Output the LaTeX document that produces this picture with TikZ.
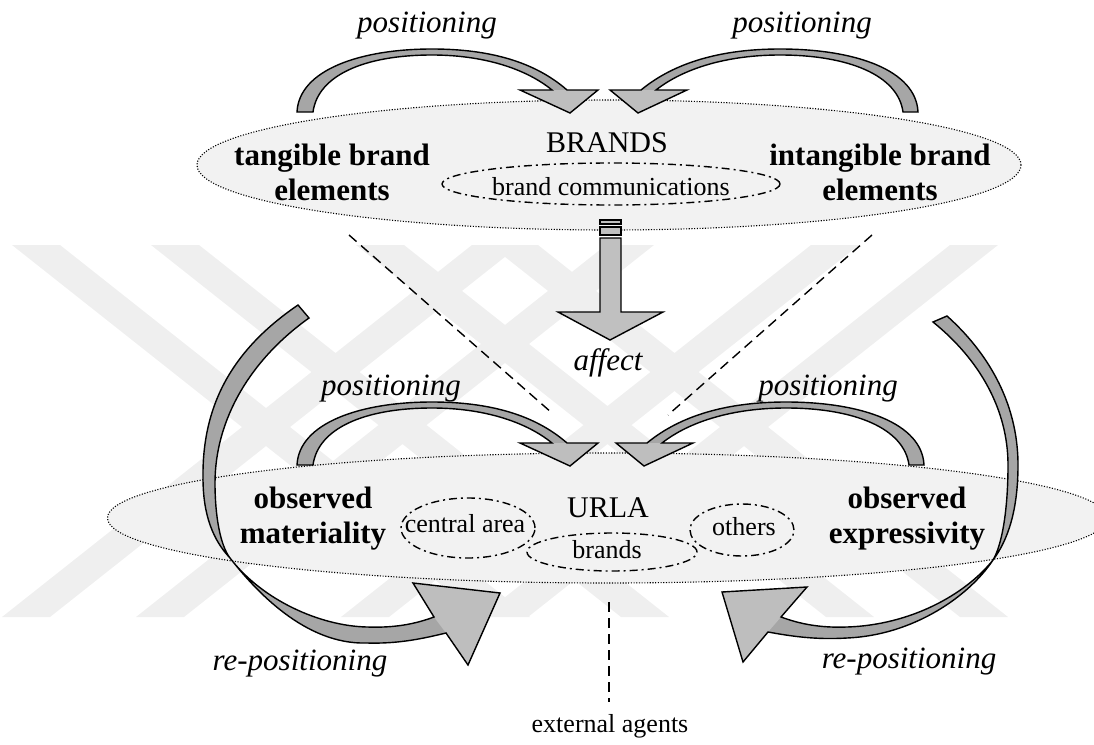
\documentclass[tikz,border=0pt]{standalone}
\usepackage{fontspec}
\setmainfont{Liberation Serif}
\usetikzlibrary{shapes.geometric}
\definecolor{ellfill}{HTML}{F2F2F2}
\definecolor{bandgray}{HTML}{A6A6A6}
\definecolor{headgray}{HTML}{BEBEBE}
\definecolor{affgray}{HTML}{C0C0C0}
\definecolor{wmgray}{HTML}{EFEFEF}
\begin{document}
\begin{tikzpicture}[x=1pt,y=-1pt,
  bigell/.style={ellipse, draw, fill=ellfill, line width=1.1pt,
    dash pattern=on 1.1pt off 1.6pt, inner sep=0pt},
  smallell/.style={ellipse, draw, line width=1.4pt,
    dash pattern=on 8pt off 4pt on 2pt off 4pt, inner sep=0pt},
  guide/.style={line width=1.4pt, dash pattern=on 10pt off 6pt},
  outline/.style={draw=black, line width=1.4pt, line join=miter},
  rm/.style={font=\fontsize{30}{34}\selectfont, inner sep=0pt},
  sm/.style={font=\fontsize{26}{30}\selectfont, inner sep=0pt},
  itl/.style={font=\fontsize{31}{34}\selectfont\itshape, inner sep=0pt},
  bf/.style={font=\fontsize{31}{34.5}\selectfont\bfseries, align=center, inner sep=0pt},
  % curved "positioning" arrow bending to the right
  posright/.pic={
    \path[save path=\pa] (297,112) .. controls (299,70) and (360,49) .. (432,49)
      .. controls (490,49) and (535,62) .. (567,90) -- (598,90) -- (570,113) -- (520,90)
      -- (552,90) .. controls (525,68) and (482,55) .. (432,55)
      .. controls (365,55) and (318,75) .. (313,112) -- cycle;
    \fill[bandgray, use path=\pa];
    \fill[headgray] (567,90) -- (598,90) -- (570,113) -- (520,90) -- (552,90) -- cycle;
    \path[outline, use path=\pa];
  },
  % curved "positioning" arrow bending to the left
  posleft/.pic={
    \path[save path=\pb] (918,112) .. controls (916,70) and (855,49) .. (780,49)
      .. controls (722,49) and (675,62) .. (641,90) -- (610,90) -- (638,113) -- (687,90)
      -- (656,90) .. controls (684,68) and (728,55) .. (780,55)
      .. controls (848,55) and (898,75) .. (903,112) -- cycle;
    \fill[bandgray, use path=\pb];
    \fill[headgray] (641,90) -- (610,90) -- (638,113) -- (687,90) -- (656,90) -- cycle;
    \path[outline, use path=\pb];
  }
]
\useasboundingbox (0,0) rectangle (1094,744);

% ---- faint background emblem: crossing diagonal strips ----
\fill[wmgray]
  \foreach \c in {36,175,380,514} {
    (\c-24,245) -- (\c+24,245) -- (\c+494,617) -- (\c+446,617) -- cycle }
  \foreach \c in {496,630,835,974} {
    (\c-24,245) -- (\c+24,245) -- (\c-446,617) -- (\c-494,617) -- cycle };

% ---- the two fields ----
\node[bigell, minimum width=1000pt, minimum height=130pt] (urlafield) at (607.5,518) {};
\node[bigell, minimum width=824pt, minimum height=130pt] (brandfield) at (609,165) {};

% ---- inner areas ----
\node[smallell, minimum width=338pt, minimum height=42pt] (commell) at (611,184) {};
\node[smallell, minimum width=134pt, minimum height=60pt] (centralell) at (468,528) {};
\node[smallell, minimum width=170pt, minimum height=38pt] (brandsell) at (612,552) {};
\node[smallell, minimum width=104pt, minimum height=52pt] (othersell) at (742,530) {};

% ---- dashed guide lines ----
\coordinate (gl1) at (349,235);
\coordinate (gl2) at (552,413);
\coordinate (gr1) at (872,235);
\coordinate (gr2) at (668,415);
\coordinate (gv1) at (609,602);
\coordinate (gv2) at (609,702);
\draw[guide] (gl1) -- (gl2);
\draw[guide] (gr1) -- (gr2);
\draw[guide] (gv1) -- (gv2);

% ---- affect arrow ----
\draw[outline, fill=affgray] (600,220) rectangle (621,224);
\draw[outline, fill=affgray] (600,227) rectangle (621,235);
\draw[outline, fill=affgray] (600,238) -- (600,312) -- (558,312) -- (610,340)
  -- (663,312) -- (621,312) -- (621,238) -- cycle;

% ---- positioning arrows ----
\pic at (0,0) {posright};
\pic at (0,0) {posleft};
\pic at (0,353) {posright};
\pic at (6,353) {posleft};

% ---- re-positioning arrows ----
\path[save path=\pBL] (298,305) .. controls (235,348) and (202,402) .. (203,478)
  .. controls (203,515) and (213,540) .. (230,558)
  .. controls (255,590) and (305,645) .. (367,643)
  .. controls (400,644) and (425,638) .. (446,633)
  -- (468,665) -- (500,593) -- (413,583) -- (434,617)
  .. controls (415,624) and (395,628) .. (367,627)
  .. controls (320,626) and (262,600) .. (230,558)
  .. controls (220,545) and (215,515) .. (215,483)
  .. controls (215,420) and (250,360) .. (309,318) -- cycle;
\fill[bandgray, use path=\pBL];
\fill[headgray] (446,633) -- (468,665) -- (500,593) -- (413,583) -- (434,617) -- cycle;
\path[outline, use path=\pBL];

\path[save path=\pBR] (947,316) .. controls (985,350) and (1018,400) .. (1018,465)
  .. controls (1018,510) and (1008,540) .. (993,560)
  .. controls (970,595) and (915,635) .. (847,638)
  .. controls (815,640) and (790,636) .. (768,632)
  -- (743,662) -- (722,592) -- (807,587) -- (781,617)
  .. controls (800,624) and (820,628) .. (847,627)
  .. controls (910,625) and (965,595) .. (993,560)
  .. controls (1002,545) and (1008,510) .. (1008,465)
  .. controls (1008,410) and (980,360) .. (933,322) -- cycle;
\fill[bandgray, use path=\pBR];
\fill[headgray] (768,632) -- (743,662) -- (722,592) -- (807,587) -- (781,617) -- cycle;
\path[outline, use path=\pBR];

% ---- texts ----
\node[rm, anchor=base] (brands) at (607,152) {BRANDS};
\node[sm, anchor=base] (comm) at (611,195) {brand communications};
\node[bf, anchor=base] (tangible) at (332,200) {tangible brand\\elements};
\node[bf, anchor=base] (intangible) at (880,200) {intangible brand\\elements};
\node[rm, anchor=base] (urla) at (608,517) {URLA};
\node[sm, anchor=base] (central) at (465,532) {central area};
\node[sm, anchor=base] (brandsin) at (607,558) {brands};
\node[sm, anchor=base] (others) at (744,535) {others};
\node[bf, anchor=base] (materiality) at (313,543) {observed\\materiality};
\node[bf, anchor=base] (expressivity) at (907,543) {observed\\expressivity};
\node[itl, anchor=base] (posTL) at (427,32) {positioning};
\node[itl, anchor=base] (posTR) at (802,32) {positioning};
\node[itl, anchor=base] (posBL) at (391,395) {positioning};
\node[itl, anchor=base] (posBR) at (828,395) {positioning};
\node[itl, anchor=base] (affect) at (608,370) {affect};
\node[itl, anchor=base] (repL) at (300,670) {re-positioning};
\node[itl, anchor=base] (repR) at (909,668) {re-positioning};
\node[sm, anchor=base] (external) at (610,732) {external agents};
\end{tikzpicture}
\end{document}
